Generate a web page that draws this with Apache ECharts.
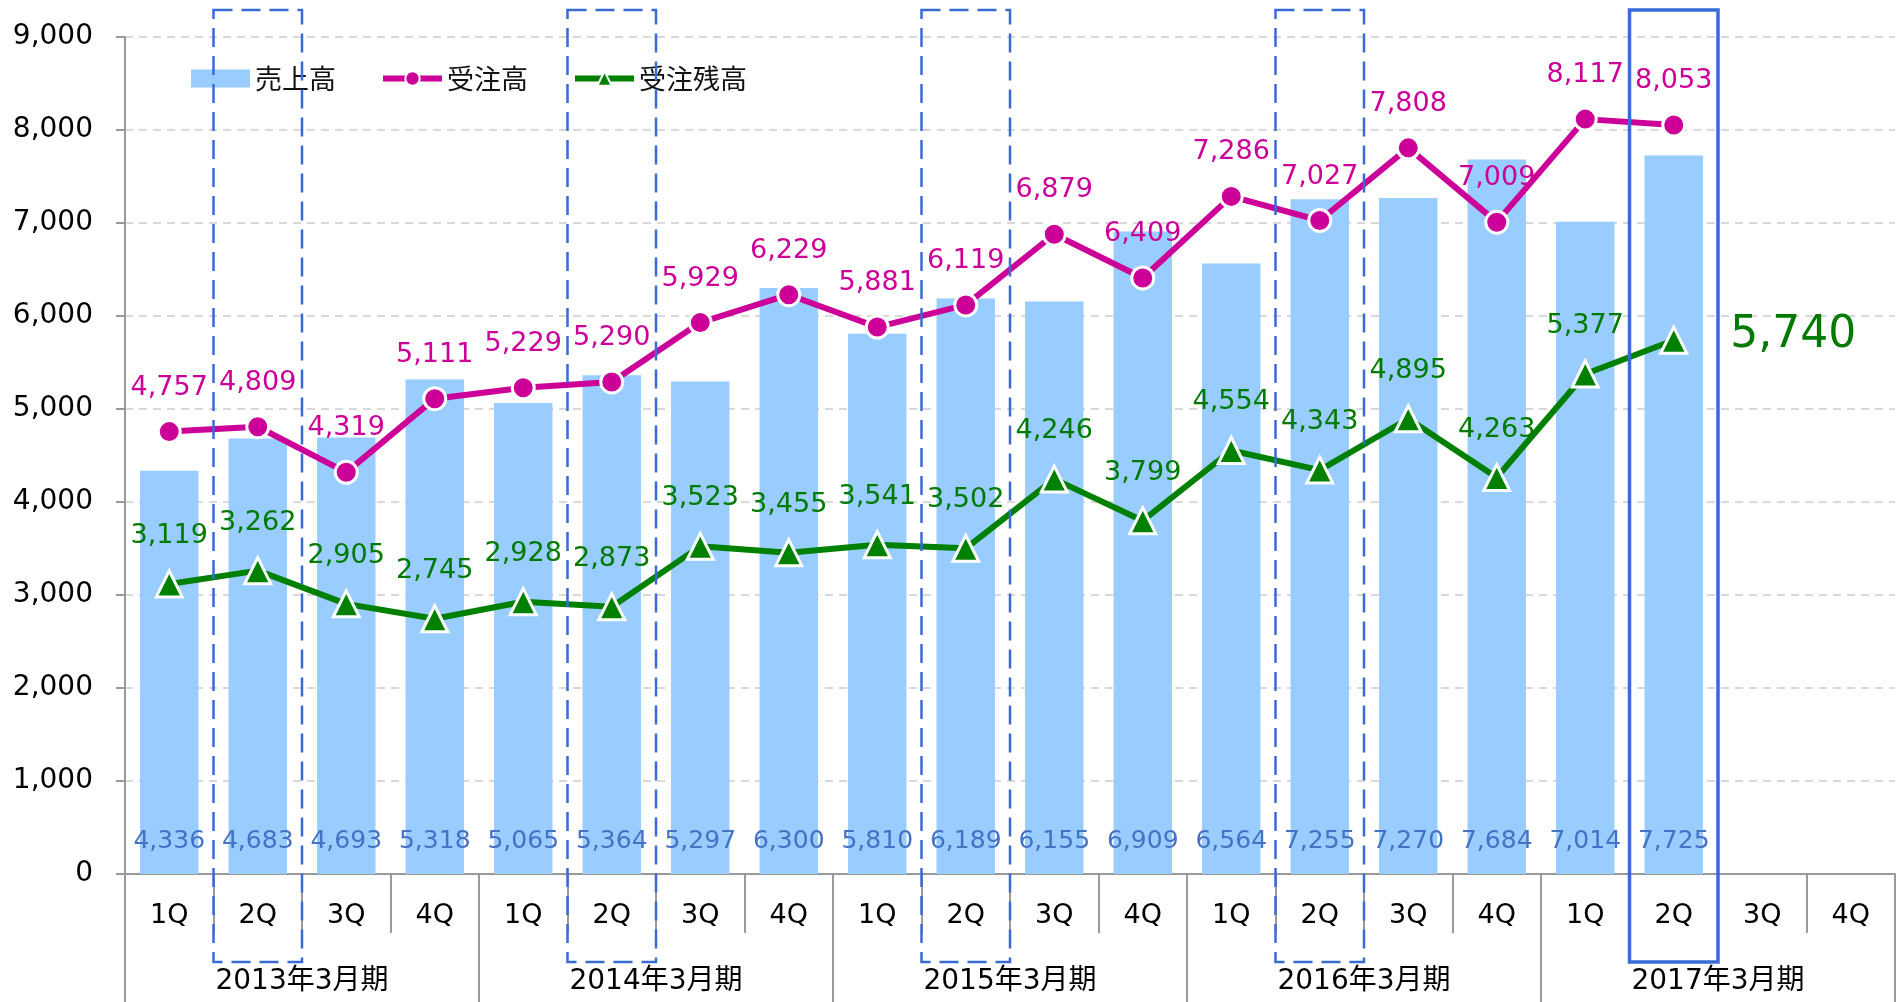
<!DOCTYPE html>
<html>
<head>
<meta charset="utf-8">
<script src="https://cdn.jsdelivr.net/npm/echarts@6/dist/echarts.min.js"></script>
<style>
html, body { margin: 0; padding: 0; background: #fff; }
#main { width: 1899px; height: 1002px; }
</style>
</head>
<body>
<div id="main"></div>
<script>
var quarters = ['1Q', '2Q', '3Q', '4Q', '1Q', '2Q', '3Q', '4Q', '1Q', '2Q',
                '3Q', '4Q', '1Q', '2Q', '3Q', '4Q', '1Q', '2Q', '3Q', '4Q'];
var years = ['2013年3月期', '2014年3月期', '2015年3月期', '2016年3月期', '2017年3月期'];
// 売上高
var sales = [4336, 4683, 4693, 5318, 5065, 5364, 5297, 6300, 5810, 6189,
             6155, 6909, 6564, 7255, 7270, 7684, 7014, 7725, null, null];
// 受注高
var orders = [4757, 4809, 4319, 5111, 5229, 5290, 5929, 6229, 5881, 6119,
              6879, 6409, 7286, 7027, 7808, 7009, 8117, 8053, null, null];
// 受注残高
var backlog = [3119, 3262, 2905, 2745, 2928, 2873, 3523, 3455, 3541, 3502,
               4246, 3799, 4554, 4343, 4895, 4263, 5377, 5740, null, null];
var dashedIdx = [1, 5, 9, 13];   // 各期の2Q
var currentIdx = 17;             // 2017年3月期 2Q

var FONT = '"DejaVu Sans", "Noto Sans CJK JP", sans-serif';
var fmt = function (v) { return v == null ? '' : v.toLocaleString('en-US'); };

var chart = echarts.init(document.getElementById('main'));

// 最新の受注残高だけ右側に大きく表示
var backlogData = backlog.map(function (v, i) {
    if (i !== currentIdx) return v;
    return {
        value: v,
        label: {
            position: 'right', distance: 42, offset: [0, -5],
            fontSize: 44, lineHeight: 44, color: '#007A00'
        }
    };
});

var option = {
    animation: false,
    backgroundColor: '#fff',
    textStyle: { fontFamily: FONT },
    grid: { left: 125, right: 4, top: 37, bottom: 128, containLabel: false },
    legend: {
        left: 191, top: 65, padding: 0,
        itemWidth: 59, itemHeight: 18, itemGap: 44,
        textStyle: { fontSize: 27, lineHeight: 27, color: '#111', fontFamily: '"Noto Sans CJK JP", sans-serif' },
        lineStyle: { width: 6 },
        data: [
            { name: '売上高', icon: 'rect' },
            { name: '受注高' },
            { name: '受注残高' }
        ]
    },
    xAxis: [
        {
            type: 'category',
            data: quarters,
            position: 'bottom',
            axisLine: { show: true, lineStyle: { color: '#999', width: 2 } },
            axisTick: { show: true, interval: 0, length: 59, lineStyle: { color: '#999', width: 2 } },
            axisLabel: { interval: 0, margin: 28, fontSize: 27, lineHeight: 27, color: '#000', fontFamily: FONT },
            splitLine: { show: false }
        },
        {
            type: 'category',
            data: years,
            position: 'bottom',
            offset: 0,
            axisLine: { show: false },
            axisTick: { show: true, interval: 0, length: 130, lineStyle: { color: '#999', width: 2 } },
            axisLabel: { interval: 0, margin: 94, fontSize: 28, lineHeight: 28, color: '#000', fontFamily: FONT },
            splitLine: { show: false }
        }
    ],
    yAxis: {
        type: 'value',
        min: 0, max: 9000, interval: 1000,
        axisLine: { show: true, lineStyle: { color: '#999', width: 2 } },
        axisTick: { show: true, length: 9, lineStyle: { color: '#999', width: 2 } },
        axisLabel: { margin: 32, fontSize: 28, color: '#000', fontFamily: FONT, formatter: fmt },
        splitLine: { show: true, lineStyle: { color: '#D9D9D9', width: 2, type: [8, 6] } }
    },
    series: [
        {
            name: '売上高',
            type: 'bar',
            data: sales,
            barWidth: '66%',
            itemStyle: { color: '#99CCFF' },
            label: {
                show: true, position: 'insideBottom', distance: 20,
                fontSize: 25, lineHeight: 25, color: '#4472C4', fontFamily: FONT,
                formatter: function (p) { return fmt(p.value); }
            },
            z: 1
        },
        {
            name: '受注高',
            type: 'line',
            data: orders,
            symbol: 'circle', symbolSize: 22,
            lineStyle: { color: '#CC0099', width: 6 },
            itemStyle: { color: '#CC0099', borderColor: '#fff', borderWidth: 3 },
            label: {
                show: true, position: 'top', distance: 18,
                fontSize: 27, lineHeight: 27, color: '#CC0099', fontFamily: FONT,
                formatter: function (p) { return fmt(p.value); }
            },
            z: 3
        },
        {
            name: '受注残高',
            type: 'line',
            data: backlogData,
            symbol: 'triangle', symbolSize: 26,
            lineStyle: { color: '#008000', width: 6 },
            itemStyle: { color: '#008000', borderColor: '#fff', borderWidth: 3 },
            label: {
                show: true, position: 'top', distance: 20,
                fontSize: 27, lineHeight: 27, color: '#007A00', fontFamily: FONT,
                formatter: function (p) { return fmt(p.value); }
            },
            z: 3
        }
    ]
};

chart.setOption(option);

// 2Q を囲む枠
var boxTop = 10, boxBottom = 962;
var band = chart.convertToPixel({ xAxisIndex: 0 }, 1) - chart.convertToPixel({ xAxisIndex: 0 }, 0);
var boxes = [];
dashedIdx.forEach(function (i) {
    var cx = chart.convertToPixel({ xAxisIndex: 0 }, i);
    boxes.push({
        type: 'rect', z: 10, silent: true,
        shape: { x: cx - band / 2, y: boxTop, width: band, height: boxBottom - boxTop },
        style: { fill: 'none', stroke: '#3A6BD4', lineWidth: 2.5, lineDash: [19, 9] }
    });
});
var ccx = chart.convertToPixel({ xAxisIndex: 0 }, currentIdx);
boxes.push({
    type: 'rect', z: 10, silent: true,
    shape: { x: ccx - band / 2, y: boxTop, width: band, height: boxBottom - boxTop },
    style: { fill: 'none', stroke: '#3A6BD4', lineWidth: 3.5 }
});
chart.setOption({ graphic: boxes });
</script>
</body>
</html>
